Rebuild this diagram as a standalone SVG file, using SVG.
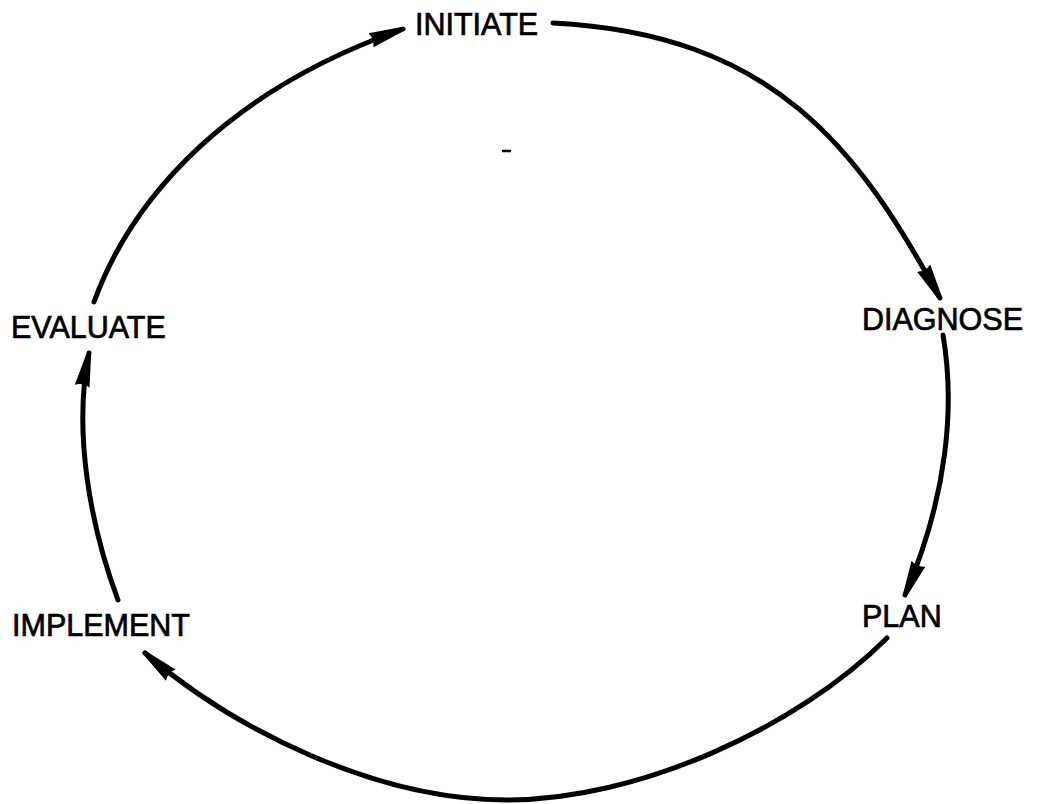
<svg xmlns="http://www.w3.org/2000/svg" width="1037" height="804" viewBox="0 0 1037 804">
<style>
.lbl{font-family:"Liberation Sans",Arial,sans-serif;font-size:30.5px;fill:#000;stroke:#000;stroke-width:0.7}
.conn{fill:none;stroke:#000;stroke-width:5;stroke-linecap:round;marker-end:url(#ah)}
</style>
<defs>
<marker id="ah" markerUnits="userSpaceOnUse" viewBox="0 0 36 18" refX="34" refY="9" markerWidth="36" markerHeight="18" orient="auto">
<path d="M0,1.5 L32,6.5 Q36,9 32,11.5 L0,16.5 Q4,9 0,1.5 Z" fill="#000"/>
</marker>
</defs>
<rect width="1037" height="804" fill="#fff"/>
<g id="connectors">
<path class="conn" d="M94,302 C134,192 234,88 403,29"/>
<path class="conn" d="M553,23 C773,34 858,148 940,298"/>
<path class="conn" d="M943,335 C955,405 948,495 905,595"/>
<path class="conn" d="M887,638 C796,729 637,800 507,800 C377,800 236,731 145,653"/>
<path class="conn" d="M118,600 C90,525 73,431 89,353"/>
</g>
<g id="node-initiate"><text class="lbl" x="415" y="35">INITIATE</text></g>
<g id="node-diagnose"><text class="lbl" x="862" y="330">DIAGNOSE</text></g>
<g id="node-plan"><text class="lbl" x="862" y="627">PLAN</text></g>
<g id="node-implement"><text class="lbl" x="12" y="636">IMPLEMENT</text></g>
<g id="node-evaluate"><text class="lbl" x="11" y="338">EVALUATE</text></g>
<line x1="502" y1="151" x2="511" y2="151" stroke="#000" stroke-width="2.5"/>
</svg>
